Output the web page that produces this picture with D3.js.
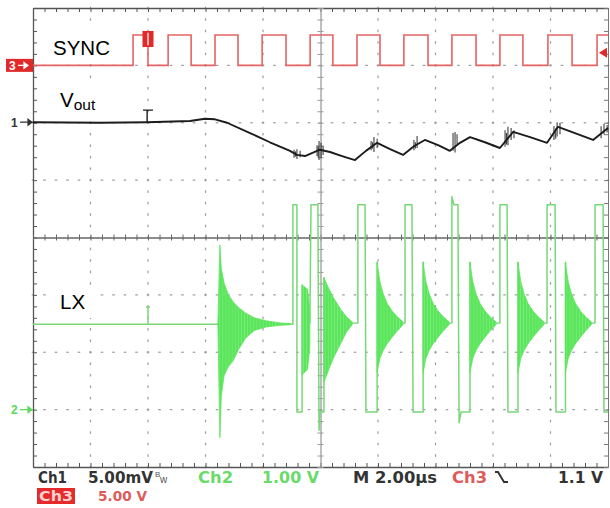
<!DOCTYPE html>
<html lang="en">
<head>
<meta charset="UTF-8">
<title>SYNC / Vout / LX scope capture</title>
<style>
html,body{margin:0;padding:0;background:#fff}
svg{display:block}
</style>
</head>
<body>
<svg id="scope" width="610" height="508"></svg>
<script src="https://cdnjs.cloudflare.com/ajax/libs/d3/7.8.5/d3.min.js"></script>
<script>
// time in µs (M 2.00µs/div), levels in graticule divisions from the centre line
const syncRise = [3.48, 4.70, 6.33, 7.97, 9.64, 11.27, 12.90, 14.57, 16.24, 17.91, 19.62];
const syncFall = [4.00, 5.50, 7.13, 8.80, 10.43, 12.07, 13.74, 15.41, 17.04, 18.75];
const syncLow = 3.0, syncHigh = 3.53, syncTrigLevel = 3.22;

// Ch1 Vout (5.00mV/div, AC)
const voutT = [0, 2.33, 3.97, 5.46, 5.98, 6.33, 6.75, 7.55, 8.24, 8.94, 9.18, 9.46, 9.70, 9.98, 10.33, 10.75, 11.20, 11.58, 11.97, 12.42, 12.87, 13.25, 13.63, 14.09, 14.50, 14.85, 15.20, 15.72, 16.24, 16.70, 17.29, 17.88, 18.26, 18.85, 19.48, 20.0];
const voutV = [2.01, 2.00, 2.01, 2.03, 2.07, 2.06, 2.00, 1.82, 1.66, 1.51, 1.44, 1.42, 1.47, 1.53, 1.49, 1.42, 1.35, 1.51, 1.65, 1.54, 1.44, 1.59, 1.70, 1.61, 1.51, 1.65, 1.75, 1.66, 1.56, 1.84, 1.75, 1.65, 1.93, 1.82, 1.70, 1.91];
// switching noise on Vout: [t, low, high]
const voutNoise = [
  [9.08,1.39,1.53],[9.13,1.41,1.50],[9.18,1.37,1.54],[9.29,1.40,1.51],
  [9.88,1.42,1.61],[9.92,1.40,1.58],[9.95,1.35,1.68],[10.02,1.38,1.65],[10.09,1.44,1.60],
  [11.76,1.52,1.68],[11.81,1.55,1.66],[11.86,1.49,1.75],[11.97,1.56,1.72],
  [13.25,1.52,1.70],[13.30,1.55,1.66],[13.36,1.56,1.77],
  [14.61,1.51,1.82],[14.68,1.48,1.84],[14.75,1.63,1.80],
  [16.42,1.58,1.87],[16.47,1.62,1.82],[16.52,1.61,1.93],[16.63,1.70,1.91],[16.73,1.73,1.87],
  [18.12,1.70,1.94],[18.18,1.72,1.90],[18.23,1.76,2.01],[18.33,1.80,2.00],
  [19.76,1.73,1.94],[19.86,1.80,1.98],[19.97,1.83,1.96]
];

// Ch2 LX (1.00 V/div), switch-node outline
const lxT = [0, 9.04, 9.04, 9.18, 9.18, 9.36, 9.36, 9.37, 9.63, 9.67, 9.91, 9.95, 9.98, 10.12, 10.12, 10.13,
  11.30, 11.30, 11.55, 11.58, 11.97, 11.97, 11.98, 12.94, 12.94, 13.18, 13.22, 13.57, 13.57, 13.58,
  14.57, 14.57, 14.64, 14.78, 14.82, 14.89, 15.20, 15.20, 15.21, 16.24, 16.24, 16.49, 16.52, 16.87, 16.87, 16.88,
  17.88, 17.88, 18.16, 18.19, 18.52, 18.52, 18.53, 19.55, 19.55, 19.83, 19.86, 20.0];
const lxV = [-1.51, -1.51, 0.57, 0.57, -3.04, -3.04, -0.83, -1.50, -1.49, 0.57, 0.57, -3.36, -3.04, -3.04, -0.70, -1.50,
  -1.49, 0.57, 0.57, -3.04, -3.04, -0.43, -1.50, -1.49, 0.57, 0.57, -3.04, -3.04, -0.43, -1.50,
  -1.49, 0.71, 0.57, 0.57, -3.23, -3.04, -3.04, -0.43, -1.50, -1.49, 0.57, 0.57, -3.04, -3.04, -0.43, -1.50,
  -1.49, 0.57, 0.57, -3.04, -3.04, -0.43, -1.50, -1.49, 0.57, 0.57, -3.04, -3.04];

// ringing envelopes: [t, top, bottom]
const ringFirst = [[6.43,-1.51,-1.51],[6.50,-0.13,-3.49],[6.55,-0.55,-2.75],[6.65,-0.80,-2.40],[6.80,-1.00,-2.25],
  [6.96,-1.12,-2.15],[7.15,-1.22,-1.95],[7.40,-1.32,-1.75],[7.70,-1.40,-1.62],[8.10,-1.45,-1.56],[8.60,-1.49,-1.53],[8.95,-1.50,-1.52]];
const ringSecond = [[9.36,-0.83,-2.39],[9.55,-0.90,-2.30],[9.63,-1.30,-1.90]];
const ringThird = [[10.12,-0.70,-2.52],[10.25,-0.85,-2.35],[10.45,-1.05,-2.10],[10.70,-1.25,-1.85],[10.90,-1.38,-1.65],[11.10,-1.47,-1.52]];
// steady-state burst shape, repeated at each burst start
const ringDt = [0, 0.04, 0.10, 0.21, 0.35, 0.52, 0.70, 0.90];
const ringTop = [-0.43, -0.58, -0.78, -0.98, -1.15, -1.28, -1.38, -1.47];
const ringBot = [-2.35, -2.25, -2.10, -1.97, -1.85, -1.74, -1.63, -1.52];
const ringStarts = [11.97, 13.57, 15.20, 16.87, 18.52];

const trigT = 4.0;
const chLevels = {ch1: 2.01, ch2: -3.0, ch3: 3.0};

const x = d3.scaleLinear().domain([0, 20]).range([33, 608]);
const y = d3.scaleLinear().domain([-4, 4]).range([467, 8]);

const svg = d3.select('#scope');
const RED = '#e46464', GREEN = '#5ae65a', GREEN_L = '#78d878', INK = '#1c1c1c';
const FONT = 'Liberation Sans, Arial, sans-serif';

// streaky fill for the ringing bursts
const pat = svg.append('defs').append('pattern').attr('id', 'ring').attr('patternUnits', 'userSpaceOnUse')
  .attr('width', 3.1).attr('height', 10);
pat.append('rect').attr('width', 3.1).attr('height', 10).attr('fill', GREEN);
pat.append('rect').attr('x', 2.5).attr('width', 0.6).attr('height', 10).attr('fill', '#86ec86');

// graticule dots
const gDots = svg.append('g').attr('fill', '#9c9c9c');
d3.range(2, 19, 2).filter(t => t !== 10).forEach(t => {
  d3.range(-4, 4.001, 0.2).forEach(v => {
    gDots.append('rect').attr('x', x(t) - 0.6).attr('y', y(v) - 1.3).attr('width', 1.2).attr('height', 2.6);
  });
});
d3.range(-3, 3.001, 1).filter(v => v !== 0).forEach(v => {
  d3.range(0, 20.001, 0.4).forEach(t => {
    gDots.append('rect').attr('x', x(t) - 1.3).attr('y', y(v) - 0.6).attr('width', 2.6).attr('height', 1.2);
  });
});

// white boxes behind the channel labels
[[45, 27, 90, 34], [52, 84, 50, 30], [52, 288, 44, 30]].forEach(b => {
  svg.append('rect').attr('x', b[0]).attr('y', b[1]).attr('width', b[2]).attr('height', b[3]).attr('fill', '#fff');
});

// border and centre crosshair with minor ticks
const minorT = d3.range(0, 20.001, 0.4), minorV = d3.range(-4, 4.001, 0.2);
function styleAxis(g, col, w) {
  g.selectAll('path').attr('stroke', col).attr('stroke-width', w);
  g.selectAll('line').attr('stroke', col).attr('stroke-width', 1);
  g.selectAll('text').remove();
}
svg.append('g').attr('transform', `translate(0,${y(4)})`)
  .call(d3.axisBottom(x).tickValues(minorT).tickSize(4).tickSizeOuter(0).tickFormat('')).call(g => styleAxis(g, '#555', 1.3));
svg.append('g').attr('transform', `translate(0,${y(-4)})`)
  .call(d3.axisTop(x).tickValues(minorT).tickSize(4).tickSizeOuter(0).tickFormat('')).call(g => styleAxis(g, '#555', 1.3));
svg.append('g').attr('transform', `translate(${x(0)},0)`)
  .call(d3.axisRight(y).tickValues(minorV).tickSize(4).tickSizeOuter(0).tickFormat('')).call(g => styleAxis(g, '#555', 1.3));
svg.append('g').attr('transform', `translate(${x(20)},0)`)
  .call(d3.axisLeft(y).tickValues(minorV).tickSize(4).tickSizeOuter(0).tickFormat('')).call(g => styleAxis(g, '#777', 1));
// centre lines, ticks on both sides
svg.append('g').attr('transform', `translate(0,${y(0)})`)
  .call(d3.axisTop(x).tickValues(minorT).tickSize(3).tickSizeOuter(0).tickFormat('')).call(g => styleAxis(g, '#666', 1.2));
svg.append('g').attr('transform', `translate(0,${y(0)})`)
  .call(d3.axisBottom(x).tickValues(minorT).tickSize(3).tickSizeOuter(0).tickFormat('')).call(g => styleAxis(g, '#666', 1.2));
svg.append('g').attr('transform', `translate(${x(10)},0)`)
  .call(d3.axisLeft(y).tickValues(minorV).tickSize(3).tickSizeOuter(0).tickFormat('')).call(g => styleAxis(g, '#999', 0.8));
svg.append('g').attr('transform', `translate(${x(10)},0)`)
  .call(d3.axisRight(y).tickValues(minorV).tickSize(3).tickSizeOuter(0).tickFormat('')).call(g => styleAxis(g, '#999', 0.8));

// ---- Ch2 LX ----
const area = d3.area().x(d => x(d[0])).y0(d => y(d[2])).y1(d => y(d[1]));
const bursts = [ringFirst, ringSecond, ringThird].concat(
  ringStarts.map(s => ringDt.map((dt, i) => [s + dt, ringTop[i], ringBot[i]])));
const line = d3.line().x(d => x(d[0])).y(d => y(d[1]));
svg.append('path').datum(lxT.map((t, i) => [t, lxV[i]])).attr('d', line)
  .attr('fill', 'none').attr('stroke', GREEN_L).attr('stroke-width', 1.5).attr('stroke-linejoin', 'round');
bursts.forEach(b => {
  svg.append('path').datum(b).attr('d', area).attr('fill', 'url(#ring)').attr('stroke', GREEN).attr('stroke-width', 0.8);
});
// LX trigger tick
svg.append('path').attr('d', `M${x(trigT)},${y(-1.51)}V${y(-1.21)}M${x(trigT) - 2},${y(-1.21)}H${x(trigT) + 2}`)
  .attr('stroke', GREEN_L).attr('stroke-width', 1.5).attr('fill', 'none');

// ---- Ch3 SYNC ----
const syncPts = [[0, syncLow]];
syncRise.forEach((r, i) => {
  syncPts.push([r, syncLow], [r, syncHigh]);
  if (i < syncFall.length) syncPts.push([syncFall[i], syncHigh], [syncFall[i], syncLow]);
  else syncPts.push([20, syncHigh]);
});
svg.append('path').datum(syncPts).attr('d', line)
  .attr('fill', 'none').attr('stroke', RED).attr('stroke-width', 1.6);
// trigger point block on the first pulse
svg.append('rect').attr('x', x(trigT) - 5.5).attr('y', y(3.6)).attr('width', 11).attr('height', y(3.32) - y(3.6)).attr('fill', '#e02a2a');
svg.append('line').attr('x1', x(trigT)).attr('x2', x(trigT)).attr('y1', y(3.57)).attr('y2', y(3.35)).attr('stroke', '#fbdada').attr('stroke-width', 1.5);
// trigger level arrow at right
svg.append('path').attr('d', `M${x(20) - 9},${y(syncTrigLevel)}l8,-5v10z`).attr('fill', '#e02a2a');

// ---- Ch1 Vout ----
svg.append('path').datum(voutT.map((t, i) => [t, voutV[i]])).attr('d', line)
  .attr('fill', 'none').attr('stroke', INK).attr('stroke-width', 1.9).attr('stroke-linejoin', 'round');
svg.append('g').selectAll('line').data(voutNoise).join('line')
  .attr('x1', d => x(d[0])).attr('x2', d => x(d[0])).attr('y1', d => y(d[1])).attr('y2', d => y(d[2]))
  .attr('stroke', INK).attr('stroke-width', 1.1).attr('stroke-opacity', 0.85);
svg.append('path').attr('d', `M${x(trigT - 0.03)},${y(2.01)}V${y(2.22)}M${x(trigT) - 5},${y(2.22)}H${x(trigT) + 5}`)
  .attr('stroke', INK).attr('stroke-width', 1.4).attr('fill', 'none');

// ---- channel ground markers at the left ----
svg.append('rect').attr('x', 6).attr('y', y(chLevels.ch3) - 6.5).attr('width', 27).attr('height', 13).attr('fill', '#e02a2a');
svg.append('text').attr('x', 9).attr('y', y(chLevels.ch3) + 4.5).attr('font-family', FONT).attr('font-weight', 'bold')
  .attr('font-size', 12).attr('fill', '#fff').text('3');
svg.append('path').attr('d', `M18,${y(chLevels.ch3)}H26M24,${y(chLevels.ch3) - 3}l4,3l-4,3z`).attr('stroke', '#fff').attr('fill', '#fff').attr('stroke-width', 1.2);
[['1', chLevels.ch1, '#333'], ['2', chLevels.ch2, '#5cd85c']].forEach(m => {
  svg.append('text').attr('x', 11).attr('y', y(m[1]) + 4.5).attr('font-family', FONT).attr('font-weight', 'bold')
    .attr('font-size', 12).attr('fill', m[2]).text(m[0]);
  svg.append('path').attr('d', `M20,${y(m[1])}H33M28,${y(m[1]) - 3}l4,3l-4,3z`).attr('stroke', m[2]).attr('fill', m[2]).attr('stroke-width', 1.2);
});

// ---- trace labels ----
svg.append('text').attr('x', 53).attr('y', 54.5).attr('font-family', FONT).attr('font-size', 20.5).attr('fill', '#000').text('SYNC');
const vo = svg.append('text').attr('x', 60).attr('y', 107).attr('font-family', FONT).attr('font-size', 20.5).attr('fill', '#000');
vo.append('tspan').text('V');
vo.append('tspan').attr('font-size', 15.5).attr('dy', 2.5).text('out');
svg.append('text').attr('x', 60).attr('y', 309).attr('font-family', FONT).attr('font-size', 20.5).attr('fill', '#000').text('LX');

// ---- readout ----
const read1 = [
  ['Ch1', 38, 29, '#333'],
  ['5.00mV', 88, 65, '#333'],
  ['Ch2', 198, 35, '#6ada6a'],
  ['1.00 V', 262, 57, '#6ada6a'],
  ['M 2.00\u00b5s', 353, 84, '#333'],
  ['Ch3', 452, 35, '#e05a5a'],
  ['1.1 V', 558, 45, '#333']
];
read1.forEach(r => {
  svg.append('text').attr('x', r[1]).attr('y', 483).attr('font-family', 'DejaVu Sans, sans-serif').attr('font-weight', 'bold')
    .attr('font-size', 16).attr('textLength', r[2]).attr('lengthAdjust', 'spacingAndGlyphs').attr('fill', r[3]).text(r[0]);
});
// bandwidth-limit glyph after 5.00mV
svg.append('text').attr('x', 155).attr('y', 477).attr('font-family', FONT).attr('font-size', 8).attr('fill', '#555').text('B');
svg.append('text').attr('x', 160).attr('y', 483).attr('font-family', FONT).attr('font-size', 10).attr('fill', '#555').text('w');
// falling-edge trigger symbol
svg.append('path').attr('d', 'M495,472H498L504,482H508').attr('fill', 'none').attr('stroke', '#333').attr('stroke-width', 2);

svg.append('rect').attr('x', 37).attr('y', 488).attr('width', 38).attr('height', 16).attr('fill', '#e42a2a');
svg.append('text').attr('x', 39).attr('y', 501).attr('font-family', 'DejaVu Sans, sans-serif').attr('font-weight', 'bold')
  .attr('font-size', 14).attr('textLength', 34).attr('lengthAdjust', 'spacingAndGlyphs').attr('fill', '#fbd0d0').text('Ch3');
svg.append('text').attr('x', 98).attr('y', 501).attr('font-family', 'DejaVu Sans, sans-serif').attr('font-weight', 'bold')
  .attr('font-size', 14).attr('textLength', 49).attr('lengthAdjust', 'spacingAndGlyphs').attr('fill', '#e05a5a').text('5.00 V');
</script>
</body>
</html>
